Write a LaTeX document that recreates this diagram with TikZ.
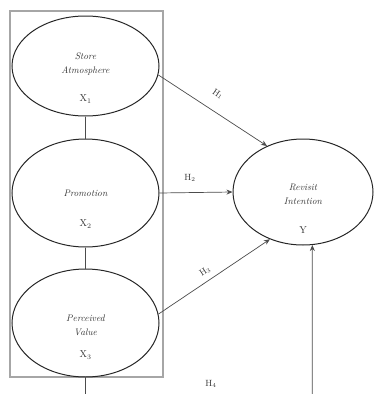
\documentclass[tikz,border=0pt]{standalone}
\usetikzlibrary{arrows.meta,shapes.geometric}
\begin{document}
\begin{tikzpicture}[x=1pt,y=-1pt,
  var/.style={draw=black!85, line width=1pt, ellipse, inner sep=0pt, minimum width=147pt},
  conn/.style={draw=black!70, line width=0.7pt},
  arr/.style={conn, -{Stealth[length=6pt,width=5pt]}},
  lbl/.style={font=\fontsize{9.5}{14}\selectfont\itshape, align=center, text=black!80},
  hl/.style={font=\fontsize{9}{10}\selectfont, text=black!80, inner sep=1pt},
  sub/.style={font=\fontsize{10}{11}\selectfont, text=black!80, inner sep=1pt}]
\useasboundingbox (0,0) rectangle (375,394);
% group frame
\node[draw=black!35, line width=1.2pt, minimum width=153pt, minimum height=366pt, inner sep=0pt] (frame) at (86.5,194) {};
% latent variables
\node[var, minimum height=100pt] (x1) at (85.5,66) {};
\node[var, minimum height=108pt] (x2) at (85.5,193) {};
\node[var, minimum height=108pt] (x3) at (85.5,323) {};
\node[var, minimum width=140pt, minimum height=106pt] (y) at (303,192) {};
% texts
\node[lbl] (t1) at (85.5,64) {Store\\Atmosphere};
\node[sub] (s1) at (85.5,99) {X$_1$};
\node[lbl] (t2) at (85.5,193) {Promotion};
\node[sub] (s2) at (85.5,224) {X$_2$};
\node[lbl] (t3) at (85.5,325) {Perceived\\Value};
\node[sub] (s3) at (85.5,355) {X$_3$};
\node[lbl] (ty) at (303,194) {Revisit\\Intention};
\node[sub] (sy) at (303,230) {Y};
% free ends
\coordinate (bot1) at (85.5,394);
\coordinate (bot2) at (312.3,394);
% connectors
\draw[conn] (x1.south) -- (x2.north);
\draw[conn] (x2.south) -- (x3.north);
\draw[conn] (x3.south) -- (bot1);
\draw[arr] (x1.-7) -- (y.128);
\draw[arr] (x2.east) -- (y.west);
\draw[arr] (x3.7) -- (y.235);
\draw[arr] (bot2) -- (y.-80);
% hypothesis labels
\node[hl, rotate=-33.7] (h1) at (218,94) {H$_1$};
\node[hl] (h2) at (190,178) {H$_2$};
\node[hl, rotate=33.5] (h3) at (205,271) {H$_3$};
\node[hl] (h4) at (211,384) {H$_4$};
\end{tikzpicture}
\end{document}
